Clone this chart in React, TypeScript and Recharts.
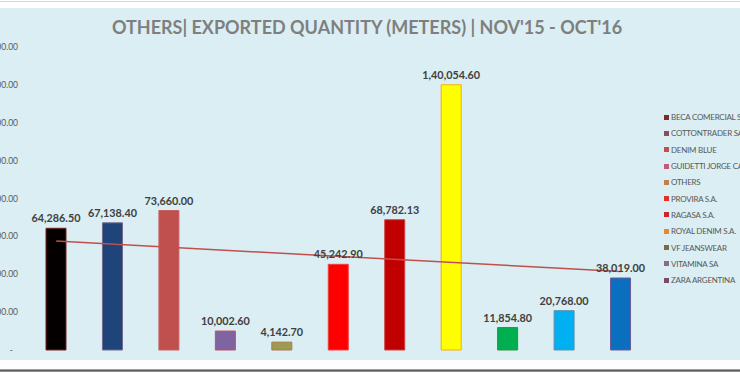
import React from 'react';
import { ComposedChart, Bar, Line, XAxis, YAxis, Cell, LabelList } from 'recharts';

const customers = [
  'BECA COMERCIAL SA',
  'COTTONTRADER SA',
  'DENIM BLUE',
  'GUIDETTI JORGE CARLOS',
  'OTHERS',
  'PROVIRA S.A.',
  'RAGASA S.A.',
  'ROYAL DENIM S.A.',
  'VF JEANSWEAR',
  'VITAMINA SA',
  'ZARA ARGENTINA',
];
const quantities = [64286.5, 67138.4, 73660, 10002.6, 4142.7, 45242.9, 68782.13, 140054.6, 11854.8, 20768, 38019];
const trendValues: (number | null)[] = [57500, null, null, null, null, null, null, null, null, null, 41400];
const yTicks = [0, 20000, 40000, 60000, 80000, 100000, 120000, 140000, 160000];

const barFills = ['#050000', '#1f4479', '#c0504d', '#8064a2', '#9c9a55', '#ff0000', '#c00000', '#ffff00', '#00b050', '#00b0f0', '#0a6fbe'];
const barStrokes = ['#7a2020', '#6f6a90', '#c86060', '#c0505a', '#b07a40', '#f04040', '#d04040', '#f0b010', '#3a8a4a', '#6090b0', '#6a5c9c'];
const legendColors = ['#7b2c2c', '#8e4b5c', '#c0504d', '#c45a78', '#c0804e', '#e0302c', '#c8282c', '#e08a2c', '#7f6a44', '#8a6a88', '#7a4a6e'];

const title = "OTHERS| EXPORTED QUANTITY (METERS) | NOV'15 - OCT'16";

function fmtIN(v: number): string {
  const [i, d] = v.toFixed(2).split('.');
  const last3 = i.slice(-3);
  let rest = i.slice(0, -3);
  if (rest) rest = rest.replace(/\B(?=(\d{2})+(?!\d))/g, ',') + ',';
  return rest + last3 + '.' + d;
}

const data = customers.map((c, i) => ({ name: c, qty: quantities[i], trend: trendValues[i] }));

const YTick = (props: any) => {
  const { x, y, payload } = props;
  const v = payload.value;
  const label = v === 0 ? '-' : fmtIN(v);
  return (
    <text x={v === 0 ? x - 5 : x} y={y} dy={3} textAnchor="end" fontSize={8.5} fill="#595959" fontFamily="Lato, 'Noto Sans', sans-serif">
      {label}
    </text>
  );
};

export default function App() {
  return (
    <div style={{ position: 'absolute', left: 0, top: 0, width: 740, height: 373, background: '#ffffff', overflow: 'hidden' }}>
      <div style={{ position: 'absolute', left: 0, top: 1, width: 740, height: 1, background: '#d4d4d4' }} />
      <div style={{ position: 'absolute', left: 0, top: 8, width: 740, height: 352, background: '#daeef3' }}>
        <ComposedChart width={740} height={352} data={data} margin={{ top: 39, right: 91, bottom: 10, left: 0 }}>
          <XAxis dataKey="name" hide />
          <YAxis
            domain={[0, 160000]}
            ticks={yTicks}
            width={28}
            axisLine={false}
            tickLine={false}
            tickSize={0}
            tickMargin={10}
            tick={<YTick />}
            interval={0}
          />
          <Bar dataKey="qty" barSize={20} isAnimationActive={false}>
            {data.map((d, i) => (
              <Cell key={d.name} fill={barFills[i]} stroke={barStrokes[i]} strokeWidth={1} />
            ))}
            <LabelList
              dataKey="qty"
              position="top"
              offset={6}
              formatter={(v: any) => fmtIN(Number(v))}
              style={{ fontFamily: 'Lato, sans-serif', fontWeight: 700, fontSize: 10.8, fill: '#404040' }}
            />
          </Bar>
          <Line dataKey="trend" stroke="#c0504d" strokeWidth={1.5} dot={false} connectNulls isAnimationActive={false} />
        </ComposedChart>
      </div>
      <div
        style={{
          position: 'absolute',
          left: 0,
          top: 14,
          width: 734,
          height: 26,
          lineHeight: '26px',
          textAlign: 'center',
          fontFamily: 'Lato, sans-serif',
          fontWeight: 700,
          fontSize: 18,
          color: '#7f7f7f',
          whiteSpace: 'nowrap',
        }}
      >
        {title}
      </div>
      <div style={{ position: 'absolute', left: 664, top: 109, width: 76, overflow: 'hidden' }}>
        {customers.map((c, i) => (
          <div key={c} style={{ height: 16.3, display: 'flex', alignItems: 'center', whiteSpace: 'nowrap' }}>
            <span style={{ display: 'inline-block', flexShrink: 0, width: 5, height: 5, background: legendColors[i], marginRight: 2 }} />
            <span style={{ fontFamily: 'Lato, sans-serif', fontSize: 8, letterSpacing: -0.25, color: '#595959', flexShrink: 0 }}>{c}</span>
          </div>
        ))}
      </div>
      <div style={{ position: 'absolute', left: 0, top: 369, width: 740, height: 3, background: 'linear-gradient(#c0c0c0, #606060, #a8a8a8)' }} />
    </div>
  );
}
